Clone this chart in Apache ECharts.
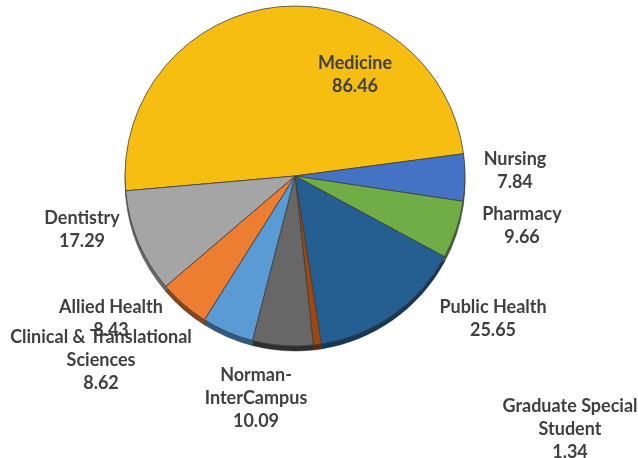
<!DOCTYPE html>
<html><head><meta charset="utf-8">
<script src="https://cdn.jsdelivr.net/npm/echarts@6/dist/echarts.min.js"></script>
<style>html,body{margin:0;padding:0;background:#fff}#c{width:638px;height:458px}</style>
</head><body><div id="c"></div>
<script>
const categories = ['Medicine','Nursing','Pharmacy','Public Health','Graduate Special\nStudent','Norman-\nInterCampus','Clinical & Translational\nSciences','Allied Health','Dentistry'];
const values = [86.46, 7.84, 9.66, 25.65, 1.34, 10.09, 8.62, 8.43, 17.29];
const colors = ['#F7BE12','#4472C4','#70AD47','#255E91','#9E480E','#676767','#5B9BD5','#ED7D31','#A5A5A5'];
const depthColors = ['#9a7600','#2a4a82','#466e2c','#14385a','#5e2a08','#2e2e2e','#2f5a85','#8a4518','#6a6a6a'];
const labelCenters = [[355,75],[515,171],[522,226],[493,319],[570,429],[256,398],[101,360],[111,319],[82,230]];

const chart = echarts.init(document.getElementById('c'), null, {renderer:'canvas'});
const mk = (cols) => categories.map((n,i)=>({name:n, value:values[i], itemStyle:{color:cols[i]}}));
chart.setOption({
  animation:false,
  series:[
    {type:'pie', silent:true, center:[295,181], radius:170, startAngle:185, clockwise:true,
     label:{show:false}, labelLine:{show:false}, z:1,
     itemStyle:{borderColor:'#2a2a2a', borderWidth:0.5},
     data: mk(depthColors)},
    {type:'pie', center:[295,176], radius:170, startAngle:185, clockwise:true, z:2,
     itemStyle:{borderColor:'#3f3f3f', borderWidth:0.8},
     labelLine:{show:false},
     label:{show:true, position:'outside', overflow:'none', alignTo:'none', edgeDistance:0,
       formatter:(p)=>p.name+'\n'+p.value.toFixed(2),
       fontFamily:'Lato', fontWeight:'bold', fontSize:18, lineHeight:23, color:'#404040', align:'center'},
     labelLayout:(p)=>({x:labelCenters[p.dataIndex][0], y:labelCenters[p.dataIndex][1], align:'center', verticalAlign:'middle', hideOverlap:false, moveOverlap:null}),
     data: mk(colors)}
  ]
});
</script></body></html>
